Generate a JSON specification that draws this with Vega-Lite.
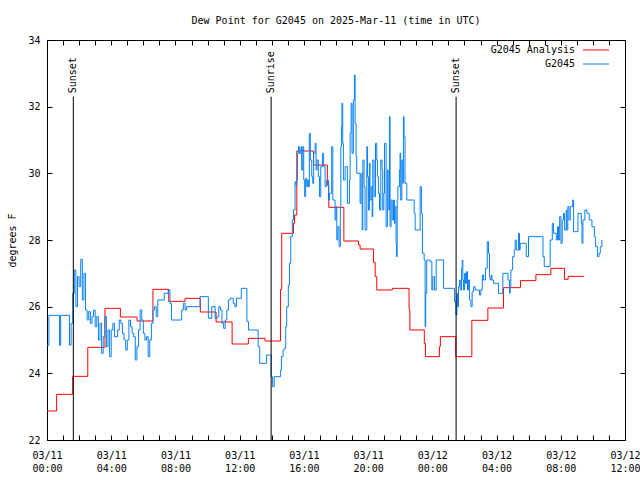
{
  "$schema": "https://vega.github.io/schema/vega-lite/v6.json",
  "width": 578,
  "height": 400,
  "autosize": {"type": "none"},
  "padding": {"left": 47, "top": 40, "right": 15, "bottom": 40},
  "background": "white",
  "title": {"text": "Dew Point for G2045 on 2025-Mar-11 (time in UTC)", "anchor": "middle", "offset": 1, "baseline": "alphabetic", "font": "DejaVu Sans Mono", "fontSize": 10, "fontWeight": "normal", "color": "black"},
  "config": {
    "font": "DejaVu Sans Mono",
    "view": {"stroke": "black", "strokeWidth": 1},
    "axis": {"domain": false, "grid": false, "ticks": true, "tickColor": "black", "tickSize": -5, "tickWidth": 1, "labelFont": "DejaVu Sans Mono", "labelFontSize": 10, "labelColor": "black", "titleFont": "DejaVu Sans Mono", "titleFontSize": 10, "titleFontWeight": "normal", "titleColor": "black"}
  },
  "resolve": {"axis": {"x": "independent", "y": "independent"}},
  "layer": [
    {
      "data": {"values": [
        {"h":0,"v":22.87},{"h":0.6,"v":23.37},{"h":1.6,"v":23.91},{"h":2.54,"v":24.78},{"h":3.61,"v":25.95},{"h":4.57,"v":25.69},{"h":5.61,"v":25.57},{"h":6.6,"v":26.52},{"h":7.58,"v":26.16},{"h":8.6,"v":26.25},{"h":9.55,"v":25.84},{"h":10.53,"v":25.54},{"h":11.53,"v":24.88},{"h":12.54,"v":25.05},{"h":13.58,"v":24.97},{"h":14.54,"v":26.52},{"h":14.62,"v":28.2},{"h":15.35,"v":28.5},{"h":15.42,"v":28.75},{"h":15.56,"v":30.67},{"h":16.6,"v":30.25},{"h":17.46,"v":29.65},{"h":17.55,"v":28.98},{"h":18.49,"v":27.97},{"h":19.4,"v":27.85},{"h":19.5,"v":27.73},{"h":20.33,"v":27.33},{"h":20.44,"v":26.9},{"h":20.54,"v":26.5},{"h":21.51,"v":26.55},{"h":22.55,"v":25.93},{"h":22.6,"v":25.3},{"h":23.5,"v":24.9},{"h":23.57,"v":24.5},{"h":24.44,"v":24.8},{"h":24.5,"v":25.1},{"h":25.46,"v":24.5},{"h":26.46,"v":25.59},{"h":27.46,"v":25.96},{"h":28.43,"v":26.57},{"h":29.49,"v":26.78},{"h":30.45,"v":26.96},{"h":31.38,"v":27.15},{"h":32.23,"v":26.82},{"h":32.46,"v":26.91},{"h":33.44,"v":26.91}
      ]},
      "mark": {"type": "line", "interpolate": "step-after", "strokeWidth": 1},
      "encoding": {
        "x": {"field": "h", "type": "quantitative", "scale": {"domain": [0, 36], "nice": false, "zero": false},
          "axis": {"orient": "bottom", "values": [0,1,2,3,4,5,6,7,8,9,10,11,12,13,14,15,16,17,18,19,20,21,22,23,24,25,26,27,28,29,30,31,32,33,34,35,36],
            "labelExpr": "datum.value % 4 == 0 ? ['03/' + (11 + floor(datum.value / 24)), (datum.value % 24 < 10 ? '0' : '') + (datum.value % 24) + ':00'] : ''",
            "labelPadding": 15, "labelLineHeight": 13, "labelOverlap": false, "labelFlush": false, "title": null}},
        "y": {"field": "v", "type": "quantitative", "scale": {"domain": [22, 34], "nice": false, "zero": false},
          "axis": {"orient": "left", "values": [22,24,26,28,30,32,34], "labelPadding": 12, "title": "degrees F", "titlePadding": 10}},
        "color": {"datum": "G2045 Analysis", "type": "nominal",
          "scale": {"domain": ["G2045 Analysis", "G2045"], "range": ["#ff0000", "#0a80f5"]},
          "legend": {"orient": "none", "legendX": 542, "legendY": 3, "title": null, "symbolType": "M-2,0H2", "symbolSize": 169, "symbolStrokeWidth": 1, "labelAlign": "right", "labelOffset": -28, "labelFont": "DejaVu Sans Mono", "labelFontSize": 10, "labelColor": "black", "rowPadding": 2, "padding": 0}}
      }
    },
    {
      "data": {"values": [
        {"h":0,"v":24.84},{"h":0.12,"v":25.74},{"h":0.78,"v":24.84},{"h":0.85,"v":25.74},{"h":1.4,"v":24.85},{"h":1.5,"v":25.5},{"h":1.6,"v":26.4},{"h":1.7,"v":27.1},{"h":1.8,"v":26.0},{"h":1.9,"v":26.9},{"h":2.0,"v":26.6},{"h":2.1,"v":27.42},{"h":2.2,"v":26.2},{"h":2.3,"v":27.0},{"h":2.4,"v":25.9},{"h":2.5,"v":25.6},{"h":2.6,"v":25.85},{"h":2.7,"v":25.5},{"h":2.8,"v":25.7},{"h":2.9,"v":25.9},{"h":3.0,"v":25.4},{"h":3.1,"v":25.7},{"h":3.2,"v":25.0},{"h":3.3,"v":25.5},{"h":3.4,"v":24.6},{"h":3.5,"v":25.1},{"h":3.6,"v":25.7},{"h":3.7,"v":24.8},{"h":3.8,"v":25.3},{"h":3.9,"v":24.5},{"h":4.0,"v":25.3},{"h":4.1,"v":25.5},{"h":4.2,"v":25.1},{"h":4.4,"v":25.3},{"h":4.5,"v":25.6},{"h":4.6,"v":25.5},{"h":4.7,"v":25.2},{"h":4.8,"v":25.0},{"h":4.9,"v":24.7},{"h":5.0,"v":25.0},{"h":5.1,"v":25.6},{"h":5.2,"v":25.4},{"h":5.3,"v":25.2},{"h":5.4,"v":25.1},{"h":5.5,"v":24.4},{"h":5.6,"v":24.8},{"h":5.7,"v":25.3},{"h":5.8,"v":25.9},{"h":5.9,"v":25.6},{"h":6.0,"v":25.2},{"h":6.1,"v":25.0},{"h":6.2,"v":25.1},{"h":6.3,"v":24.5},{"h":6.4,"v":25.0},{"h":6.5,"v":25.5},{"h":6.6,"v":25.9},{"h":6.7,"v":26.0},{"h":6.8,"v":25.7},{"h":6.9,"v":26.2},{"h":7.3,"v":26.4},{"h":7.55,"v":26.5},{"h":7.66,"v":26.1},{"h":7.75,"v":25.6},{"h":8.39,"v":25.9},{"h":8.49,"v":26.1},{"h":8.6,"v":25.9},{"h":8.7,"v":26.0},{"h":9.53,"v":26.3},{"h":10.05,"v":25.65},{"h":10.26,"v":26.0},{"h":10.47,"v":25.65},{"h":10.6,"v":25.7},{"h":10.7,"v":26.0},{"h":10.8,"v":25.9},{"h":10.9,"v":25.5},{"h":11.0,"v":25.35},{"h":11.1,"v":25.6},{"h":11.2,"v":25.9},{"h":11.3,"v":26.2},{"h":11.4,"v":26.25},{"h":11.6,"v":26.1},{"h":11.7,"v":26.0},{"h":11.8,"v":26.25},{"h":12.1,"v":26.55},{"h":12.45,"v":25.55},{"h":12.55,"v":25.3},{"h":13.15,"v":24.8},{"h":13.25,"v":24.3},{"h":13.68,"v":24.55},{"h":13.96,"v":23.9},{"h":14.05,"v":23.6},{"h":14.15,"v":23.9},{"h":14.55,"v":24.1},{"h":14.6,"v":24.5},{"h":14.7,"v":24.7},{"h":14.78,"v":24.75},{"h":14.87,"v":25.4},{"h":14.93,"v":26.0},{"h":15.03,"v":26.65},{"h":15.1,"v":27.3},{"h":15.18,"v":28.1},{"h":15.28,"v":28.6},{"h":15.35,"v":28.9},{"h":15.45,"v":29.75},{"h":15.5,"v":29.65},{"h":15.55,"v":29.8},{"h":15.6,"v":30.6},{"h":15.66,"v":30.8},{"h":15.72,"v":30.6},{"h":15.82,"v":30.8},{"h":15.86,"v":30.1},{"h":15.93,"v":30.8},{"h":15.99,"v":29.8},{"h":16.05,"v":29.3},{"h":16.11,"v":29.85},{"h":16.18,"v":29.6},{"h":16.24,"v":29.8},{"h":16.28,"v":29.6},{"h":16.34,"v":31.2},{"h":16.4,"v":30.4},{"h":16.49,"v":29.9},{"h":16.55,"v":29.7},{"h":16.61,"v":30.6},{"h":16.7,"v":30.9},{"h":16.76,"v":30.1},{"h":16.82,"v":30.4},{"h":16.9,"v":29.9},{"h":16.97,"v":29.3},{"h":17.05,"v":30.2},{"h":17.15,"v":30.6},{"h":17.23,"v":30.2},{"h":17.32,"v":29.6},{"h":17.42,"v":29.8},{"h":17.53,"v":29.2},{"h":17.6,"v":29.4},{"h":17.73,"v":30.8},{"h":17.8,"v":29.2},{"h":17.94,"v":28.6},{"h":18.0,"v":29.0},{"h":18.05,"v":28.0},{"h":18.11,"v":28.4},{"h":18.19,"v":27.8},{"h":18.27,"v":29.0},{"h":18.3,"v":30.8},{"h":18.34,"v":31.4},{"h":18.37,"v":32.1},{"h":18.42,"v":30.9},{"h":18.46,"v":29.8},{"h":18.57,"v":30.2},{"h":18.71,"v":29.1},{"h":18.84,"v":29.8},{"h":18.88,"v":31.2},{"h":18.94,"v":32.1},{"h":19.0,"v":30.6},{"h":19.08,"v":32.2},{"h":19.15,"v":32.95},{"h":19.19,"v":31.5},{"h":19.25,"v":30.5},{"h":19.29,"v":30.0},{"h":19.5,"v":29.1},{"h":19.56,"v":30.0},{"h":19.63,"v":28.3},{"h":19.67,"v":30.4},{"h":19.75,"v":29.6},{"h":19.81,"v":28.3},{"h":19.92,"v":30.8},{"h":19.96,"v":29.9},{"h":20.02,"v":28.9},{"h":20.08,"v":30.3},{"h":20.12,"v":29.2},{"h":20.19,"v":29.6},{"h":20.25,"v":28.7},{"h":20.29,"v":30.4},{"h":20.37,"v":29.3},{"h":20.46,"v":30.9},{"h":20.54,"v":30.4},{"h":20.58,"v":29.9},{"h":20.64,"v":29.4},{"h":20.71,"v":28.9},{"h":20.79,"v":30.4},{"h":20.87,"v":30.1},{"h":20.91,"v":28.9},{"h":20.98,"v":29.4},{"h":21.02,"v":30.9},{"h":21.12,"v":28.4},{"h":21.2,"v":30.1},{"h":21.25,"v":29.9},{"h":21.29,"v":28.9},{"h":21.33,"v":31.7},{"h":21.37,"v":28.4},{"h":21.43,"v":29.2},{"h":21.5,"v":28.6},{"h":21.58,"v":29.2},{"h":21.64,"v":28.5},{"h":21.68,"v":29.0},{"h":21.74,"v":27.9},{"h":21.76,"v":27.5},{"h":21.81,"v":29.2},{"h":21.85,"v":29.6},{"h":21.95,"v":30.1},{"h":21.99,"v":30.6},{"h":22.03,"v":29.2},{"h":22.1,"v":30.4},{"h":22.16,"v":29.7},{"h":22.2,"v":31.7},{"h":22.24,"v":31.1},{"h":22.3,"v":29.7},{"h":22.41,"v":29.2},{"h":22.87,"v":28.8},{"h":22.93,"v":28.3},{"h":23.24,"v":29.6},{"h":23.32,"v":28.8},{"h":23.38,"v":27.6},{"h":23.49,"v":27.4},{"h":23.55,"v":25.4},{"h":23.59,"v":26.4},{"h":23.65,"v":27.4},{"h":23.86,"v":27.35},{"h":23.97,"v":26.5},{"h":24.03,"v":26.9},{"h":24.13,"v":26.5},{"h":24.24,"v":27.4},{"h":24.7,"v":26.55},{"h":25.38,"v":26.15},{"h":25.47,"v":25.75},{"h":25.53,"v":26.4},{"h":25.57,"v":26.0},{"h":25.63,"v":26.6},{"h":25.69,"v":26.8},{"h":25.74,"v":26.5},{"h":25.82,"v":27.15},{"h":25.86,"v":27.4},{"h":25.9,"v":26.8},{"h":25.94,"v":26.5},{"h":26.01,"v":27.0},{"h":26.07,"v":26.7},{"h":26.13,"v":27.05},{"h":26.19,"v":26.5},{"h":26.26,"v":26.8},{"h":26.32,"v":26.2},{"h":26.4,"v":26.0},{"h":26.48,"v":26.45},{"h":26.57,"v":26.6},{"h":26.67,"v":26.5},{"h":26.94,"v":26.35},{"h":27.02,"v":26.5},{"h":27.11,"v":26.95},{"h":27.19,"v":26.8},{"h":27.31,"v":27.15},{"h":27.42,"v":27.95},{"h":27.5,"v":27.6},{"h":27.56,"v":26.9},{"h":27.6,"v":26.8},{"h":27.67,"v":26.95},{"h":27.71,"v":26.8},{"h":27.81,"v":26.7},{"h":28.12,"v":26.4},{"h":28.39,"v":27.0},{"h":28.71,"v":26.8},{"h":28.81,"v":26.4},{"h":28.85,"v":26.6},{"h":28.89,"v":27.1},{"h":29.0,"v":27.5},{"h":29.1,"v":27.7},{"h":29.16,"v":28.0},{"h":29.23,"v":27.7},{"h":29.37,"v":28.2},{"h":29.43,"v":27.7},{"h":29.47,"v":27.9},{"h":29.85,"v":27.5},{"h":29.99,"v":28.1},{"h":30.89,"v":27.5},{"h":30.97,"v":27.2},{"h":31.34,"v":28.0},{"h":31.47,"v":28.5},{"h":31.55,"v":28.2},{"h":31.72,"v":28.0},{"h":31.8,"v":28.4},{"h":31.86,"v":28.0},{"h":31.93,"v":28.7},{"h":32.01,"v":27.9},{"h":32.09,"v":28.6},{"h":32.17,"v":28.8},{"h":32.24,"v":28.3},{"h":32.34,"v":28.9},{"h":32.38,"v":28.3},{"h":32.44,"v":29.0},{"h":32.51,"v":28.6},{"h":32.59,"v":29.0},{"h":32.74,"v":29.2},{"h":32.8,"v":28.25},{"h":33.07,"v":28.8},{"h":33.28,"v":28.5},{"h":33.32,"v":27.9},{"h":33.38,"v":28.6},{"h":33.5,"v":28.9},{"h":33.63,"v":28.8},{"h":33.77,"v":28.6},{"h":33.94,"v":28.4},{"h":34.09,"v":28.1},{"h":34.17,"v":27.8},{"h":34.29,"v":27.5},{"h":34.38,"v":27.6},{"h":34.46,"v":27.8},{"h":34.56,"v":28.0}
      ]},
      "mark": {"type": "line", "interpolate": "step-after", "strokeWidth": 1},
      "encoding": {
        "x": {"field": "h", "type": "quantitative", "axis": null},
        "y": {"field": "v", "type": "quantitative", "axis": null},
        "color": {"datum": "G2045", "type": "nominal"}
      }
    },
    {
      "data": {"values": [{"h": 1.64, "ev": "Sunset"}, {"h": 13.96, "ev": "Sunrise"}, {"h": 25.48, "ev": "Sunset"}]},
      "mark": {"type": "rule", "color": "black", "strokeWidth": 1},
      "encoding": {
        "x": {"field": "h", "type": "quantitative", "axis": {"orient": "top", "values": [0,1,2,3,4,5,6,7,8,9,10,11,12,13,14,15,16,17,18,19,20,21,22,23,24,25,26,27,28,29,30,31,32,33,34,35,36], "labels": false, "title": null}},
        "y": {"datum": 22, "type": "quantitative", "axis": {"orient": "right", "values": [22,24,26,28,30,32,34], "labels": false, "title": null}},
        "y2": {"datum": 32.3}
      }
    },
    {
      "data": {"values": [{"h": 1.64, "ev": "Sunset"}, {"h": 13.96, "ev": "Sunrise"}, {"h": 25.48, "ev": "Sunset"}]},
      "mark": {"type": "text", "angle": 270, "align": "left", "baseline": "middle", "font": "DejaVu Sans Mono", "fontSize": 10, "color": "black"},
      "encoding": {
        "x": {"field": "h", "type": "quantitative", "axis": null},
        "y": {"datum": 32.4, "type": "quantitative", "axis": null},
        "text": {"field": "ev"}
      }
    }
  ]
}
